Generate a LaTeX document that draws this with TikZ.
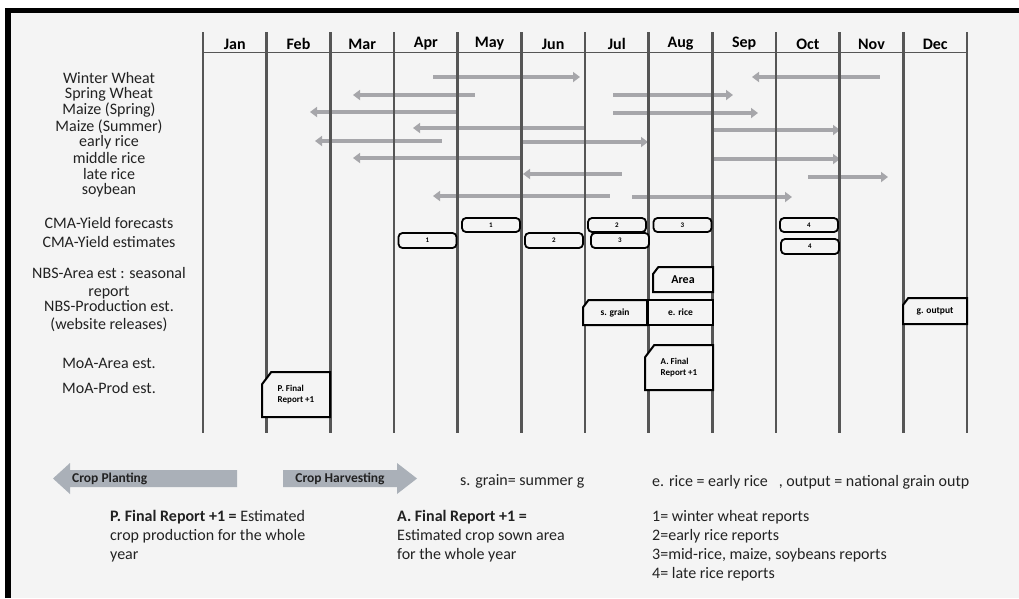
\documentclass[tikz,border=0pt]{standalone}
\usepackage{fontspec}
\setmainfont{Carlito}
\usetikzlibrary{shapes.misc,arrows.meta}
\definecolor{paper}{HTML}{F4F4F4}
\definecolor{bargrey}{HTML}{A6A6AA}
\definecolor{legendgrey}{HTML}{AAB0B8}
\definecolor{rulegrey}{HTML}{555555}
\definecolor{ink}{HTML}{222222}

\begin{document}
\begin{tikzpicture}[x=1pt,y=-1pt,
	crop/.style={font=\fontsize{16}{18}\selectfont,align=center,text=ink},
	month/.style={font=\bfseries\fontsize{16}{17}\selectfont},
	bar/.style={draw=bargrey,line width=4pt,>={Triangle[length=7pt,width=10pt]}},
	cma/.style={draw,line width=1.8pt,rounded corners=4pt,fill=paper,minimum width=58pt,minimum height=14pt,inner sep=0pt,font=\bfseries\fontsize{7}{8}\selectfont},
	release/.style={chamfered rectangle,chamfered rectangle corners=north west,chamfered rectangle angle=37,chamfered rectangle xsep=10pt,draw,line width=2pt,fill=paper,inner sep=0pt,font=\bfseries\fontsize{9.5}{10.5}\selectfont,align=left},
	note/.style={font=\fontsize{16}{19}\selectfont,align=left,inner sep=0pt,text=ink}]
	\useasboundingbox (0,0) rectangle (1019,598);
	\fill[white] (0,0) rectangle (1019,598);
	\fill[paper] (8,10) rectangle (1019,598);
	\draw[line width=5.5pt] (8,598) -- (8,10.5) -- (1019,10.5);

	\node[crop] (WW) at (109,78) {Winter Wheat};
	\node[crop] (SW) at (109,94) {Spring Wheat};
	\node[crop] (MSp) at (109,110) {Maize (Spring)};
	\node[crop] (MSu) at (109,127) {Maize (Summer)};
	\node[crop] (ER) at (109,142) {early rice};
	\node[crop] (MR) at (109,158) {middle rice};
	\node[crop] (LR) at (109,174) {late rice};
	\node[crop] (SB) at (109,190) {soybean};
	\node[crop] (CF) at (109,223) {CMA-Yield forecasts};
	\node[crop] (CE) at (109,242) {CMA-Yield estimates};
	\node[crop] (NA) at (109,283) {NBS-Area est : seasonal\\report};
	\node[crop] (NP) at (109,316) {NBS-Production est.\\(website releases)};
	\node[crop] (MA) at (109,363) {MoA-Area est.};
	\node[crop] (MP) at (109,388) {MoA-Prod est.};

	\draw[bar,<-] (752,77) -- (880,77);
	\draw[bar,->] (433,77) -- (580,77);
	\draw[bar,<-] (353,95) -- (475,95);
	\draw[bar,->] (613,95) -- (733,95);
	\draw[bar,<-] (310,112) -- (457,112);
	\draw[bar,->] (613,113) -- (758,113);
	\draw[bar,<-] (413,128) -- (585,128);
	\draw[bar,->] (714,130) -- (840,130);
	\draw[bar,<-] (315,141) -- (442,141);
	\draw[bar,->] (523,142) -- (648,142);
	\draw[bar,<-] (353,158) -- (521,158);
	\draw[bar,->] (713,159) -- (840,159);
	\draw[bar,<-] (523,174) -- (622,174);
	\draw[bar,->] (808,177) -- (888,177);
	\draw[bar,<-] (433,196) -- (610,196);
	\draw[bar,->] (632,197) -- (792,197);

	\foreach \m [count=\i] in {Jan,Feb,Mar,Apr,May,Jun,Jul,Aug,Sep,Oct,Nov,Dec}
		\node[month] (\m) at ({203+63.667*(\i-0.5)},44) {\m};
	\foreach \i in {0,...,12}
		\draw[rulegrey,line width=2.4pt] ({203+63.667*\i},32) -- ({203+63.667*\i},433);
	\draw[rulegrey,line width=1.5pt] (203,52.5) -- (967,52.5);

	\node[cma] (F1) at (491,225) {1};
	\node[cma] (F2) at (617,225) {2};
	\node[cma] (F3) at (682.5,225) {3};
	\node[cma] (F4) at (809,225) {4};
	\node[cma,minimum height=15pt] (E1) at (427.5,240.5) {1};
	\node[cma,minimum height=15pt] (E2) at (554,240.5) {2};
	\node[cma,minimum height=15pt] (E3) at (620,240.5) {3};
	\node[cma,minimum height=15pt] (E4) at (810,246.5) {4};

	\node[release,minimum width=60pt,minimum height=25pt,font=\bfseries\fontsize{12}{13}\selectfont] (Area) at (683,279.5) {Area};
	\node[release,minimum width=64pt,minimum height=25pt] (SG) at (615,312.5) {s. grain};
	\node[draw,line width=2pt,fill=paper,minimum width=65pt,minimum height=25pt,inner sep=0pt,font=\bfseries\fontsize{9.5}{10.5}\selectfont] (ERice) at (680.5,312.5) {e. rice};
	\node[release,minimum width=64pt,minimum height=26pt] (GO) at (935,311) {g. output};
	\node[release,minimum width=68pt,minimum height=45pt,font=\bfseries\fontsize{9}{10.5}\selectfont] (AF) at (679,367.5) {A. Final\\Report +1};
	\node[release,minimum width=68pt,minimum height=45pt,font=\bfseries\fontsize{9}{10.5}\selectfont] (PF) at (296,394.5) {P. Final\\Report +1};

	\fill[legendgrey] (237,470) -- (70,470) -- (70,463) -- (53,478.5) -- (70,494) -- (70,487) -- (237,487) -- cycle;
	\fill[legendgrey] (283,470) -- (397,470) -- (397,463) -- (417,478.5) -- (397,494) -- (397,487) -- (283,487) -- cycle;
	\node[anchor=west,inner sep=0pt,font=\bfseries\fontsize{13.5}{14}\selectfont,text=ink] (CP) at (72,478.5) {Crop Planting};
	\node[inner sep=0pt,font=\bfseries\fontsize{13.5}{14}\selectfont,text=ink] (CH) at (340,478.5) {Crop Harvesting};
	\node[note,anchor=west] (SGK) at (460,481) {s. grain= summer g};
	\node[note,anchor=west] (ERK) at (652,482) {e. rice = early rice \ \ , output = national grain outp};

	\node[note,anchor=north west] (PK) at (110,510) {\textbf{P. Final Report +1 =} Estimated\\crop production for the whole\\year};
	\node[note,anchor=north west] (AK) at (397,510) {\textbf{A. Final Report +1 =}\\Estimated crop sown area\\for the whole year};
	\node[note,anchor=north west] (NK) at (652,510) {1= winter wheat reports\\2=early rice reports\\3=mid-rice, maize, soybeans reports\\4= late rice reports};
\end{tikzpicture}
\end{document}
